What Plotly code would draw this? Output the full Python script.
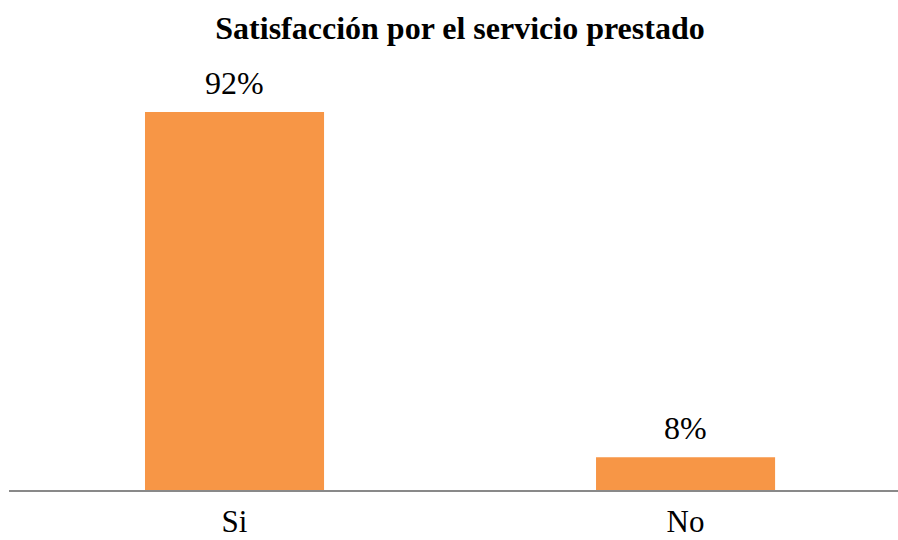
import plotly.graph_objects as go

categories = ["Si", "No"]
values = [92, 8]
labels = [f"{v}%" for v in values]

BAR_COLOR = "#F79646"
SERIF = "Times New Roman, Liberation Serif, serif"

fig = go.Figure(
    go.Bar(
        x=categories,
        y=values,
        marker=dict(color=BAR_COLOR, line=dict(width=0)),
        width=0.397,
        hoverinfo="skip",
    )
)

# value labels sitting just above each bar
for cat, val, lab in zip(categories, values, labels):
    fig.add_annotation(
        x=cat,
        y=val,
        text=lab,
        showarrow=False,
        xanchor="center",
        yanchor="bottom",
        yshift=9,
        font=dict(family=SERIF, size=32, color="#000000"),
    )

fig.update_layout(
    width=898,
    height=540,
    margin=dict(l=9, r=0, t=78, b=50, autoexpand=False),
    paper_bgcolor="white",
    plot_bgcolor="white",
    showlegend=False,
    title=dict(
        text="<b>Satisfacción por el servicio prestado</b>",
        font=dict(family=SERIF, size=32, color="#000000"),
        x=460 / 898,
        xanchor="center",
        y=1 - 28 / 540,
        yanchor="middle",
        yref="container",
    ),
    xaxis=dict(
        type="category",
        range=[-0.5, 1.471],
        showline=True,
        linecolor="#898989",
        linewidth=2,
        ticks="",
        showgrid=False,
        automargin=False,
        tickfont=dict(family=SERIF, size=31, color="#000000"),
        ticklabelstandoff=3,
    ),
    yaxis=dict(
        range=[0, 100.3],
        visible=False,
        showgrid=False,
        zeroline=False,
        automargin=False,
    ),
)

fig.write_html("out.html")
